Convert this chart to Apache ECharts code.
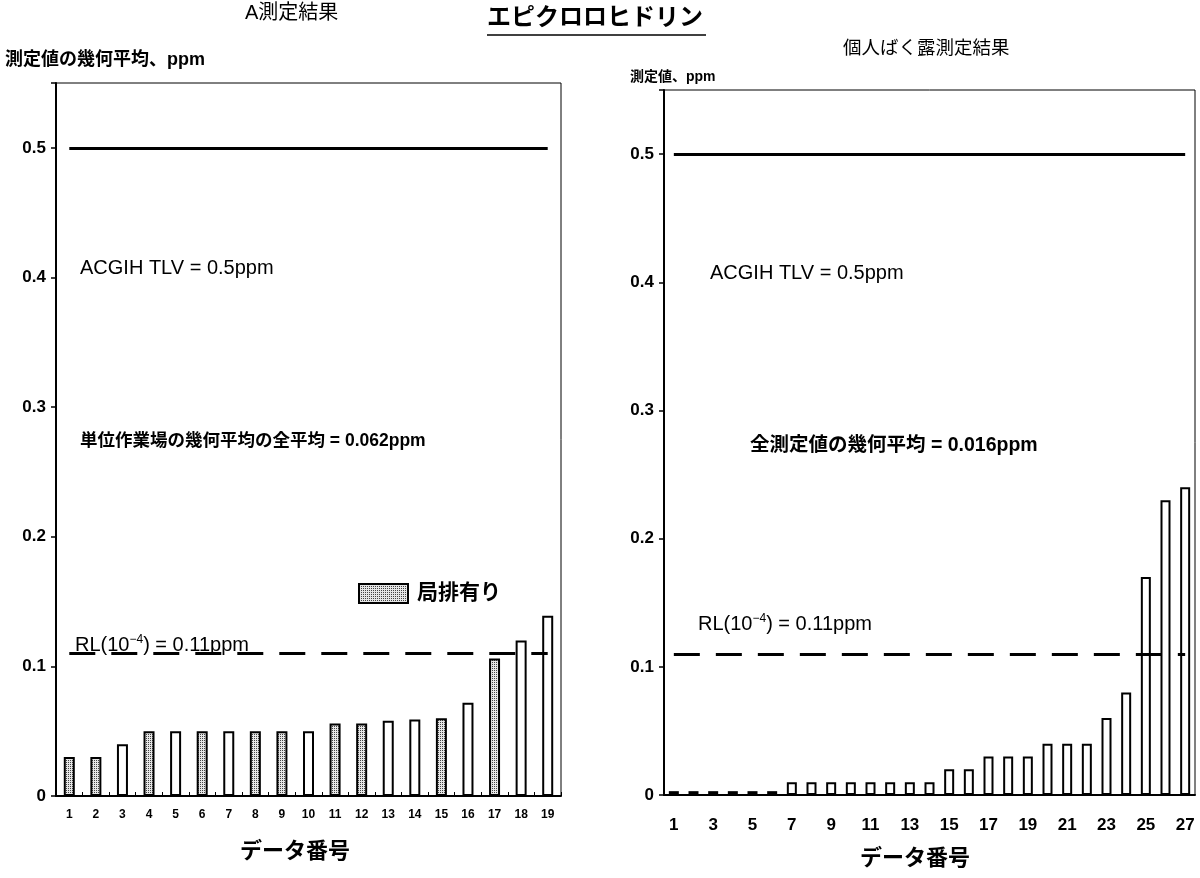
<!DOCTYPE html>
<html>
<head>
<meta charset="utf-8">
<script src="https://cdn.jsdelivr.net/npm/echarts@6/dist/echarts.min.js"></script>
<style>
html,body{margin:0;padding:0;background:#fff;}
#chart{width:1200px;height:878px;}
</style>
</head>
<body>
<div id="chart"></div>
<script>
// ---- data ----
const leftCategories = ['1','2','3','4','5','6','7','8','9','10','11','12','13','14','15','16','17','18','19'];
const leftValues = [0.030,0.030,0.040,0.050,0.050,0.050,0.050,0.050,0.050,0.050,0.056,0.056,0.058,0.059,0.060,0.072,0.106,0.120,0.139];
const leftLocalExhaust = [1,1,0,1,0,1,0,1,1,0,1,1,0,0,1,0,1,0,0];
const rightCategories = ['1','2','3','4','5','6','7','8','9','10','11','12','13','14','15','16','17','18','19','20','21','22','23','24','25','26','27'];
const rightValues = [0.003,0.003,0.003,0.003,0.003,0.003,0.010,0.010,0.010,0.010,0.010,0.010,0.010,0.010,0.020,0.020,0.030,0.030,0.030,0.040,0.040,0.040,0.060,0.080,0.170,0.230,0.240];
const yTicks = [0, 0.1, 0.2, 0.3, 0.4, 0.5];
const tlvValue = 0.5;
const rlValue = 0.11;

// ---- styles ----
const FONT = "'Liberation Sans', 'Noto Sans CJK JP', sans-serif";
const pc = document.createElement('canvas');
pc.width = 2; pc.height = 2;
const pctx = pc.getContext('2d');
pctx.fillStyle = '#e6e6e6'; pctx.fillRect(0,0,2,2);
pctx.fillStyle = '#444'; pctx.fillRect(0,0,1,1);
const shadeFill = { image: pc, repeat: 'repeat' };

function yLabel(v){
  for (const t of yTicks) if (Math.abs(v - t) < 1e-9) return t === 0 ? '0' : t.toFixed(1);
  return '';
}

const yAxisCommon = {
  type: 'value', min: 0, max: 0.55, interval: 0.1,
  axisLine: { show: true, lineStyle: { color: '#000', width: 2 } },
  axisTick: { show: true, length: 5, lineStyle: { color: '#000', width: 1.5 } },
  splitLine: { show: false },
  axisLabel: { color: '#000', fontFamily: FONT, fontWeight: 'bold', fontSize: 17, margin: 10, formatter: yLabel }
};

const chart = echarts.init(document.getElementById('chart'));
const markStyle = { color: '#000', width: 3, type: 'solid' };
const rlStyle = { color: '#000', width: 3, type: [26, 16] };
const rlRich = {
  n: { font: "20px " + FONT, fill: '#000', verticalAlign: 'bottom' },
  s: { font: "12px " + FONT, fill: '#000', verticalAlign: 'top', padding: [0,0,9,0] }
};

chart.setOption({
  animation: false,
  backgroundColor: '#fff',
  grid: [
    { left: 56, top: 83, width: 505, height: 713, show: true, borderColor: '#000', borderWidth: 1 },
    { left: 664, top: 90, width: 531, height: 705, show: true, borderColor: '#000', borderWidth: 1 }
  ],
  legend: {
    left: 353, top: 578, itemWidth: 49, itemHeight: 19, itemGap: 10,
    data: ['局排有り'],
    textStyle: { color: '#000', fontFamily: FONT, fontWeight: 'bold', fontSize: 21, padding: [0,0,0,4] },
    icon: 'rect'
  },
  xAxis: [
    { type: 'category', gridIndex: 0, data: leftCategories,
      axisLine: { lineStyle: { color: '#000', width: 2 } },
      axisTick: { show: true, inside: true, length: 4, lineStyle: { color: '#000' } },
      axisLabel: { color: '#000', fontFamily: FONT, fontWeight: 'bold', fontSize: 12, margin: 13, interval: 0 } },
    { type: 'category', gridIndex: 1, data: rightCategories,
      axisLine: { lineStyle: { color: '#000', width: 2 } },
      axisTick: { show: false },
      axisLabel: { color: '#000', fontFamily: FONT, fontWeight: 'bold', fontSize: 17, margin: 22, interval: 1 } }
  ],
  yAxis: [
    Object.assign({ gridIndex: 0 }, yAxisCommon),
    Object.assign({ gridIndex: 1 }, yAxisCommon)
  ],
  series: [
    { name: '局排有り', type: 'bar', xAxisIndex: 0, yAxisIndex: 0, barWidth: 11, barGap: '-100%',
      data: leftValues.map((v, i) => leftLocalExhaust[i] ? v : null),
      itemStyle: { color: shadeFill, borderColor: '#000', borderWidth: 2 },
      markLine: { silent: true, symbol: 'none', label: { show: false },
        data: [
          [{ coord: ['1', tlvValue], lineStyle: markStyle }, { coord: ['19', tlvValue] }],
          [{ coord: ['1', rlValue], lineStyle: rlStyle }, { coord: ['19', rlValue] }]
        ] } },
    { name: '局排無し', type: 'bar', xAxisIndex: 0, yAxisIndex: 0, barWidth: 11, barGap: '-100%',
      data: leftValues.map((v, i) => leftLocalExhaust[i] ? null : v),
      itemStyle: { color: '#fff', borderColor: '#000', borderWidth: 2 } },
    { name: '個人ばく露', type: 'bar', xAxisIndex: 1, yAxisIndex: 1, barWidth: 10,
      data: rightValues,
      itemStyle: { color: '#fff', borderColor: '#000', borderWidth: 2 },
      markLine: { silent: true, symbol: 'none', label: { show: false },
        data: [
          [{ coord: ['1', tlvValue], lineStyle: markStyle }, { coord: ['27', tlvValue] }],
          [{ coord: ['1', rlValue], lineStyle: rlStyle }, { coord: ['27', rlValue] }]
        ] } }
  ],
  graphic: [
    { type: 'text', left: 245, top: 3, style: { text: 'A測定結果', font: "20px " + FONT, fill: '#000' } },
    { type: 'text', left: 487, top: 6, style: { text: 'エピクロロヒドリン', font: "bold 24px " + FONT, fill: '#000' } },
    { type: 'line', shape: { x1: 487, y1: 35, x2: 706, y2: 35 }, style: { stroke: '#000', lineWidth: 1.5 } },
    { type: 'text', left: 843, top: 40, style: { text: '個人ばく露測定結果', font: "18.5px " + FONT, fill: '#000' } },
    { type: 'text', left: 5, top: 51, style: { text: '測定値の幾何平均、ppm', font: "bold 18px " + FONT, fill: '#000' } },
    { type: 'text', left: 630, top: 70, style: { text: '測定値、ppm', font: "bold 14px " + FONT, fill: '#000' } },
    { type: 'text', left: 80, top: 258, style: { text: 'ACGIH TLV = 0.5ppm', font: "20px " + FONT, fill: '#000' } },
    { type: 'text', left: 710, top: 263, style: { text: 'ACGIH TLV = 0.5ppm', font: "20px " + FONT, fill: '#000' } },
    { type: 'text', left: 80, top: 432, style: { text: '単位作業場の幾何平均の全平均 = 0.062ppm', font: "bold 17.5px " + FONT, fill: '#000' } },
    { type: 'text', left: 750, top: 436, style: { text: '全測定値の幾何平均 = 0.016ppm', font: "bold 19.5px " + FONT, fill: '#000' } },
    { type: 'text', left: 75, top: 634, style: { text: '{n|RL(10}{s|−4}{n|) = 0.11ppm}', rich: rlRich } },
    { type: 'text', left: 698, top: 613, style: { text: '{n|RL(10}{s|−4}{n|) = 0.11ppm}', rich: rlRich } },
    { type: 'text', left: 240, top: 841, style: { text: 'データ番号', font: "bold 22px " + FONT, fill: '#000' } },
    { type: 'text', left: 860, top: 848, style: { text: 'データ番号', font: "bold 22px " + FONT, fill: '#000' } }
  ]
});
</script>
</body>
</html>
